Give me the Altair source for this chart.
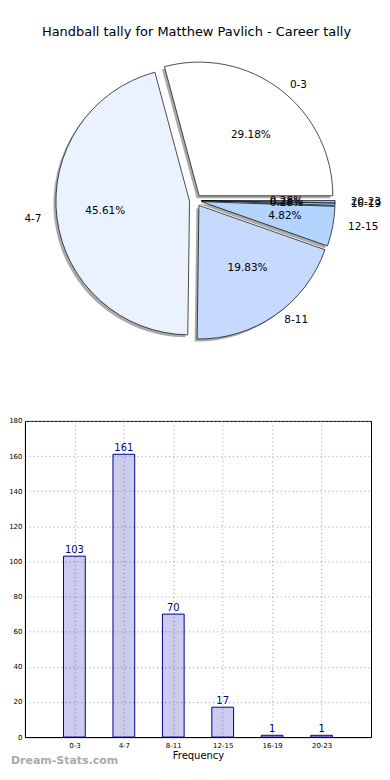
import altair as alt
import pandas as pd

# ---- data ----
categories = ["0-3", "4-7", "8-11", "12-15", "16-19", "20-23"]
counts = [103, 161, 70, 17, 1, 1]
slice_colors = ["#ffffff", "#ebf2ff", "#c6d9ff", "#b3d4ff", "#a0c8ff", "#8dbbff"]
y_ticks = [0, 20, 40, 60, 80, 100, 120, 140, 160, 180]
title_text = "Handball tally for Matthew Pavlich - Career tally"
watermark = "Dream-Stats.com"

df = pd.DataFrame({
    "cat": categories,
    "count": counts,
    "idx": list(range(len(categories))),
    "color": slice_colors,
})

FONT = "DejaVu Sans"

# ---- pie (layout constants in panel pixels) ----
PW, PH = 340, 392
CX, CY = 171, 191
R = 134
RX, RY = 142, 127
LRX = 136
D = 6

pie_base = (
    alt.Chart(df)
    .transform_window(cum="sum(count)", sort=[alt.SortField("idx")])
    .transform_joinaggregate(total="sum(count)")
    .transform_calculate(
        m0="(datum.cum - datum.count) / datum.total * 2 * PI",
        m1="datum.cum / datum.total * 2 * PI",
    )
    .transform_calculate(
        mmid="(datum.m0 + datum.m1) / 2",
        v0="2.5 * PI - datum.m1",
        v1="2.5 * PI - datum.m0",
    )
    .transform_calculate(
        px=f"{CX} + {D} * cos(datum.mmid)",
        py=f"{CY} - {D} * sin(datum.mmid)",
        pct="format(datum.count / datum.total * 100, '.2f') + '%'",
    )
    .transform_calculate(
        sx="datum.px - 2.5",
        sy="datum.py + 2.5",
        lx=f"datum.px + 1.1 * {LRX} * cos(datum.mmid)",
        ly=f"datum.py - 1.1 * {RY} * sin(datum.mmid)",
        tx=f"datum.px + 0.6 * {RX} * cos(datum.mmid)",
        ty=f"datum.py - 0.6 * {RY} * sin(datum.mmid)",
        side="cos(datum.mmid) >= 0 ? 'r' : 'l'",
    )
)

shadow = pie_base.mark_arc(radius=R, fill="#555555", fillOpacity=0.5).encode(
    x=alt.X("sx:Q", scale=None, axis=None),
    y=alt.Y("sy:Q", scale=None, axis=None),
    theta=alt.Theta("v0:Q", scale=None, stack=False),
    theta2="v1:Q",
)

slices = pie_base.mark_arc(radius=R, stroke="black", strokeWidth=0.7).encode(
    x=alt.X("px:Q", scale=None, axis=None),
    y=alt.Y("py:Q", scale=None, axis=None),
    theta=alt.Theta("v0:Q", scale=None, stack=False),
    theta2="v1:Q",
    fill=alt.Fill("color:N", scale=None),
)

lab_r = pie_base.transform_filter("datum.side == 'r'").mark_text(
    align="left", baseline="middle", font=FONT, fontSize=10.5, color="black"
).encode(
    x=alt.X("lx:Q", scale=None, axis=None),
    y=alt.Y("ly:Q", scale=None, axis=None),
    text="cat:N",
)
lab_l = pie_base.transform_filter("datum.side == 'l'").mark_text(
    align="right", baseline="middle", font=FONT, fontSize=10.5, color="black"
).encode(
    x=alt.X("lx:Q", scale=None, axis=None),
    y=alt.Y("ly:Q", scale=None, axis=None),
    text="cat:N",
)
pct = pie_base.mark_text(
    align="center", baseline="middle", font=FONT, fontSize=10.5, color="black"
).encode(
    x=alt.X("tx:Q", scale=None, axis=None),
    y=alt.Y("ty:Q", scale=None, axis=None),
    text="pct:N",
)

title = alt.Chart(pd.DataFrame({"t": [title_text]})).mark_text(
    align="center", baseline="middle", font=FONT, fontSize=13, color="black"
).encode(x=alt.value(172), y=alt.value(22), text="t:N")

pie = alt.layer(shadow, slices, lab_r, lab_l, pct, title).properties(
    width=PW, height=PH, view=alt.ViewBackground(stroke="transparent")
)

# ---- bar chart ----
BW, BH = 347, 317
label_expr = "[" + ",".join(f"'{c}'" for c in categories) + "][datum.value]"

bar_base = alt.Chart(df).transform_calculate(
    x0="datum.idx - 0.22", x1="datum.idx + 0.22"
)

x_axis = alt.Axis(
    values=list(range(len(categories))), labelExpr=label_expr, title="Frequency",
    grid=True, gridDash=[1, 3], gridColor="#999999", gridWidth=1,
    tickSize=0, domainColor="black", labelOverlap=False,
    labelFont=FONT, labelFontSize=7, labelColor="black", labelPadding=4,
    titleFont=FONT, titleFontSize=10, titleFontWeight="normal", titleColor="black", titlePadding=2,
)
y_axis = alt.Axis(
    values=y_ticks, title=None,
    grid=True, gridDash=[1, 3], gridColor="#999999", gridWidth=1,
    tickSize=0, domainColor="black", labelOverlap=False,
    labelFont=FONT, labelFontSize=7, labelColor="black", labelPadding=3,
)
x_scale = alt.Scale(domain=[-1, 6], nice=False, zero=False)
y_scale = alt.Scale(domain=[0, 180], nice=False)

bars = bar_base.mark_bar(fill="#0000aa", fillOpacity=0.2, stroke="#000088", strokeWidth=1).encode(
    x=alt.X("x0:Q", scale=x_scale, axis=x_axis),
    x2="x1:Q",
    y=alt.Y("count:Q", scale=y_scale, axis=y_axis),
    y2=alt.datum(0),
)

bar_labels = bar_base.mark_text(
    baseline="bottom", dy=-1, font=FONT, fontSize=10, color="#00008b"
).encode(
    x=alt.X("idx:Q", scale=x_scale, axis=x_axis),
    y=alt.Y("count:Q", scale=y_scale, axis=y_axis),
    text="count:Q",
)

wm = alt.Chart(pd.DataFrame({"t": [watermark]})).mark_text(
    align="left", baseline="middle", font=FONT, fontSize=11, fontWeight="bold", color="#aaaaaa"
).encode(x=alt.value(-14), y=alt.value(BH + 24), text="t:N")

bar = alt.layer(bars, bar_labels, wm).properties(
    width=BW, height=BH, view=alt.ViewBackground(stroke="black", strokeWidth=1)
)

chart = alt.vconcat(pie, bar, spacing=14).properties(padding=0)

chart.save("out.html", embed_options={"renderer": "svg", "actions": False})
